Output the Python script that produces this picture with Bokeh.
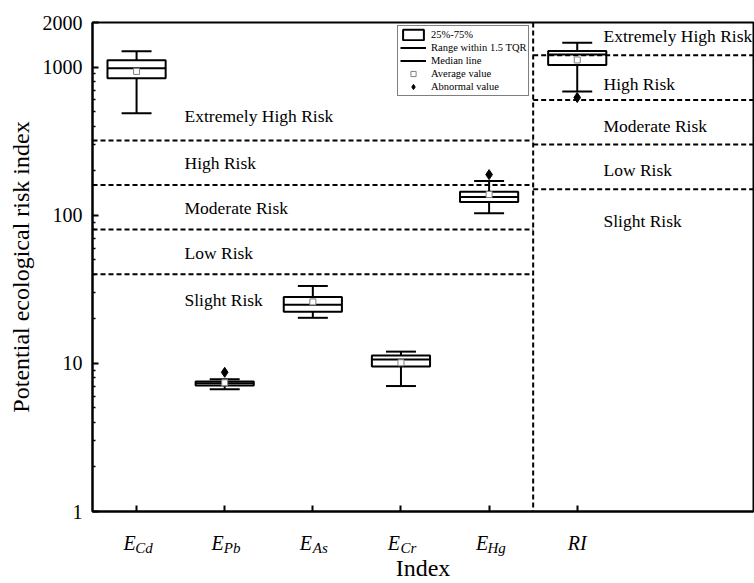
from bokeh.plotting import figure
from bokeh.models import (Range1d, FixedTicker, Span, Legend, LegendItem,
                          LinearAxis, ColumnDataSource)
from bokeh.embed import file_html
from bokeh.resources import INLINE
from bokeh.core.properties import value

# ---------------- data ----------------
positions = [1, 2, 3, 4, 5, 6]
index_main = ["E", "E", "E", "E", "E", "RI"]
index_sub = ["Cd", "Pb", "As", "Cr", "Hg"]

whisker_low = [488, 6.7, 20.3, 7.03, 103, 684]
quartile1 = [841, 7.1, 22.3, 9.53, 123, 1033]
median = [982, 7.35, 24.9, 10.6, 133, 1215]
quartile3 = [1111, 7.55, 28.1, 11.3, 144, 1283]
whisker_high = [1277, 7.8, 33.3, 12.0, 170, 1462]
mean_value = [935, 7.4, 26.0, 10.1, 138, 1117]

outlier_pos = [2, 5, 6]
outlier_value = [8.7, 188, 623]

single_thresholds = [40, 80, 160, 320]
ri_thresholds = [150, 300, 600, 1200]
risk_labels = ["Slight Risk", "Low Risk", "Moderate Risk", "High Risk",
               "Extremely High Risk"]
single_label_y = [26.8, 55.6, 112, 225, 466]
ri_label_y = [91, 202, 399, 766, 1614]

y_ticks = [1, 10, 100, 1000, 2000]
y_minor = [2, 3, 4, 5, 6, 7, 8, 9, 20, 30, 40, 50, 60, 70, 80, 90,
           200, 300, 400, 500, 600, 700, 800, 900]

# ---------------- layout constants ----------------
FONT = "Liberation Serif"
X_START, X_SPLIT, X_END = 0.5, 5.5, 8.0
BOX_HALF = 0.33
CAP_HALF = 0.17
DASH = "5 3"
E_PAD = "\u2002\u2009"      # pushes the italic E left of the tick
SUB_PAD = "\u2002\u2002"    # pushes the subscript right of the tick

p = figure(width=754, height=583,
           x_range=Range1d(X_START, X_END), y_range=Range1d(1, 2000),
           y_axis_type="log", output_backend="svg", toolbar_location=None,
           min_border_left=92, min_border_right=1, min_border_top=22,
           min_border_bottom=71)

p.xgrid.visible = False
p.ygrid.visible = False
p.outline_line_color = "black"
p.outline_line_width = 2
p.background_fill_color = "white"
p.border_fill_color = "white"

# ---------------- axes ----------------
for ax in (p.xaxis[0], p.yaxis[0]):
    ax.axis_line_width = 2
    ax.axis_line_color = "black"
    ax.major_tick_line_width = 2
    ax.minor_tick_line_width = 1.5
    ax.major_tick_in = 6
    ax.major_tick_out = 0
    ax.minor_tick_in = 3
    ax.minor_tick_out = 0

# x axis 1: ticks + italic "E" / "RI"
xa = p.xaxis[0]
xa.ticker = FixedTicker(ticks=positions)
xa.minor_tick_line_color = None
xa.major_label_overrides = {
    pos: (name + E_PAD if name == "E" else name)
    for pos, name in zip(positions, index_main)
}
xa.major_label_text_font = FONT
xa.major_label_text_font_style = "italic"
xa.major_label_text_font_size = "20px"
xa.major_label_text_color = "black"
xa.major_label_standoff = 20

# x axis 2: subscripts + axis title
xs = LinearAxis(ticker=FixedTicker(ticks=positions[:len(index_sub)]))
xs.major_label_overrides = {pos: SUB_PAD + s for pos, s in zip(positions, index_sub)}
xs.axis_line_color = None
xs.major_tick_line_color = None
xs.minor_tick_line_color = None
xs.major_tick_in = 0
xs.major_tick_out = 0
xs.major_label_text_font = FONT
xs.major_label_text_font_style = "italic"
xs.major_label_text_font_size = "15px"
xs.major_label_text_color = "black"
xs.major_label_standoff = -17
xs.axis_label = "Index"
xs.axis_label_text_font = FONT
xs.axis_label_text_font_style = "normal"
xs.axis_label_text_font_size = "24px"
xs.axis_label_text_color = "black"
xs.axis_label_standoff = -4
p.add_layout(xs, "below")

ya = p.yaxis[0]
ya.ticker = FixedTicker(ticks=y_ticks, minor_ticks=y_minor)
ya.major_label_overrides = {t: str(t) for t in y_ticks}
ya.major_label_text_font = FONT
ya.major_label_text_font_size = "20px"
ya.major_label_text_color = "black"
ya.major_label_standoff = 10
ya.axis_label = "Potential ecological risk index"
ya.axis_label_text_font = FONT
ya.axis_label_text_font_style = "normal"
ya.axis_label_text_font_size = "24px"
ya.axis_label_text_color = "black"
ya.axis_label_standoff = 6

# ---------------- boxes ----------------
src = ColumnDataSource(dict(
    x=positions,
    left=[x - BOX_HALF for x in positions],
    right=[x + BOX_HALF for x in positions],
    cap_l=[x - CAP_HALF for x in positions],
    cap_r=[x + CAP_HALF for x in positions],
    lo=whisker_low, q1=quartile1, med=median, q3=quartile3,
    hi=whisker_high, mean=mean_value,
))

r_range = p.segment(x0="x", y0="q3", x1="x", y1="hi", source=src,
                    line_color="black", line_width=2)
p.segment(x0="x", y0="q1", x1="x", y1="lo", source=src,
          line_color="black", line_width=2)
p.segment(x0="cap_l", y0="hi", x1="cap_r", y1="hi", source=src,
          line_color="black", line_width=2)
p.segment(x0="cap_l", y0="lo", x1="cap_r", y1="lo", source=src,
          line_color="black", line_width=2)
r_box = p.quad(left="left", right="right", bottom="q1", top="q3", source=src,
               fill_color="white", line_color="black", line_width=2)
r_med = p.segment(x0="left", y0="med", x1="right", y1="med", source=src,
                  line_color="black", line_width=2)

# ---------------- thresholds ----------------
p.segment(x0=[X_START] * len(single_thresholds), x1=[X_SPLIT] * len(single_thresholds),
          y0=single_thresholds, y1=single_thresholds,
          line_color="black", line_width=2, line_dash=DASH)
p.segment(x0=[X_SPLIT] * len(ri_thresholds), x1=[X_END] * len(ri_thresholds),
          y0=ri_thresholds, y1=ri_thresholds,
          line_color="black", line_width=2, line_dash=DASH)
p.add_layout(Span(location=X_SPLIT, dimension="height", line_color="black",
                  line_width=2, line_dash=DASH))

r_mean = p.scatter(x="x", y="mean", source=src, marker="square", size=6,
                   fill_color="white", line_color="#808080", line_width=1)
r_out = p.scatter(x=outlier_pos, y=outlier_value, marker="diamond", size=10,
                  fill_color="black", line_color="black")

# ---------------- risk labels ----------------
p.text(x=[1.544] * len(risk_labels), y=single_label_y, text=risk_labels,
       text_font=value(FONT), text_font_size="17.5px", text_color="black",
       text_baseline="middle", text_align="left")
p.text(x=[6.298] * len(risk_labels), y=ri_label_y, text=risk_labels,
       text_font=value(FONT), text_font_size="17.5px", text_color="black",
       text_baseline="middle", text_align="left")

# ---------------- legend ----------------
legend = Legend(items=[
    LegendItem(label="25%-75%", renderers=[r_box]),
    LegendItem(label="Range within 1.5 TQR", renderers=[r_range]),
    LegendItem(label="Median line", renderers=[r_med]),
    LegendItem(label="Average value", renderers=[r_mean]),
    LegendItem(label="Abnormal value", renderers=[r_out]),
], location=(305, 415))
legend.margin = 0
legend.padding = 2
legend.spacing = 0
legend.glyph_height = 13
legend.glyph_width = 26
legend.label_height = 13
legend.label_standoff = 5
legend.label_text_font = FONT
legend.label_text_font_size = "10.5px"
legend.label_text_color = "black"
legend.border_line_color = "black"
legend.border_line_width = 1
legend.background_fill_color = "white"
legend.background_fill_alpha = 1
p.add_layout(legend)

open("out.html", "w").write(file_html(p, INLINE))
